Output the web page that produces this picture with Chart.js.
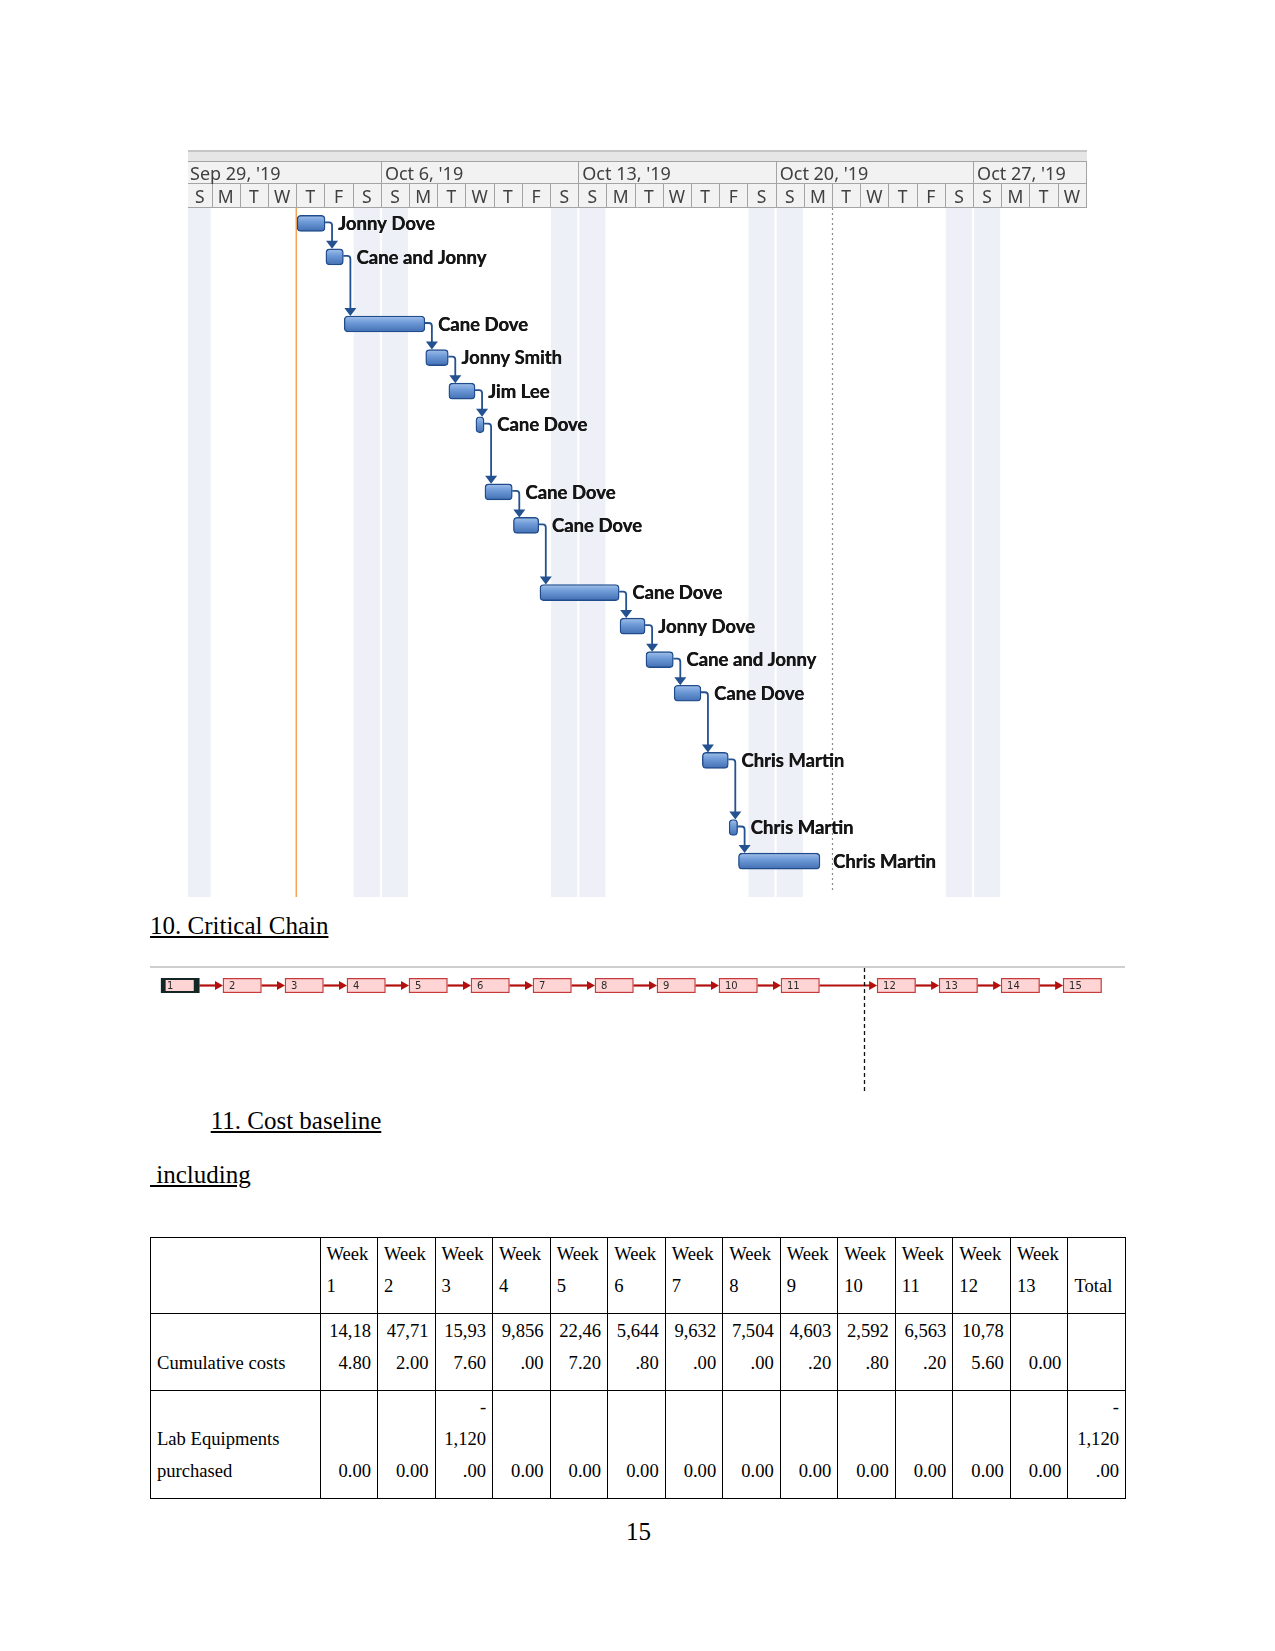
<!DOCTYPE html>
<html><head><meta charset="utf-8">
<script src="https://cdn.jsdelivr.net/npm/chart.js@4.4.1/dist/chart.umd.min.js"></script>
<style>
html,body{margin:0;padding:0;background:#fff;}
body{width:1275px;height:1651px;position:relative;overflow:hidden;font-family:"Liberation Serif","Times New Roman",serif;color:#000;}
.abs{position:absolute;}
.h{position:absolute;font-size:25px;line-height:30px;text-decoration:underline;white-space:pre;}
#costTable{position:absolute;left:150px;top:1237px;width:976px;border-collapse:collapse;table-layout:fixed;font-size:18.6px;line-height:32px;}
#costTable td{border:1px solid #000;padding:0 6px 11px 6px;vertical-align:bottom;overflow:hidden;}
#costTable td.num{text-align:right;}
canvas{display:block;}
</style></head><body>
<div class="abs" style="left:188px;top:150px;width:899px;height:747px"><canvas id="gantt" width="899" height="747"></canvas></div>
<div class="h" style="left:150px;top:911px">10. Critical Chain</div>
<div class="abs" style="left:150px;top:966px;width:975px;height:2px;background:#cfcfcf"></div>
<div class="abs" style="left:150px;top:968px;width:975px;height:125px"><canvas id="chain" width="975" height="125"></canvas></div>
<div class="h" style="left:210.7px;top:1106px">11. Cost baseline</div>
<div class="h" style="left:150px;top:1160px">&nbsp;including</div>
<table id="costTable"></table>
<div class="abs" style="left:626px;top:1517px;font-size:25px;line-height:30px">15</div>
<script>
// ---------- Gantt data ----------
const weekLabels = ["Sep 29, '19", "Oct 6, '19", "Oct 13, '19", "Oct 20, '19", "Oct 27, '19"];
const weekStarts = [0, 7, 14, 21, 28];
const dayLetters = ['S','M','T','W','T','F','S'];
const weekendDays = [0, 6, 7, 13, 14, 20, 21, 27, 28];
const projectStartDay = 4;
const statusDay = 23;
const taskNames = ['Jonny Dove','Cane and Jonny','Cane Dove','Jonny Smith','Jim Lee','Cane Dove','Cane Dove','Cane Dove','Cane Dove','Jonny Dove','Cane and Jonny','Cane Dove','Chris Martin','Chris Martin','Chris Martin'];
const taskRows  = [0, 1, 3, 4, 5, 6, 8, 9, 11, 12, 13, 14, 16, 18, 19];
const taskStart = [4.03, 5.05, 5.70, 8.59, 9.41, 10.37, 10.69, 11.70, 12.64, 15.48, 16.40, 17.40, 18.40, 19.35, 19.68];
const taskEnd   = [5.02, 5.67, 8.56, 9.39, 10.34, 10.66, 11.66, 12.60, 15.45, 16.37, 17.37, 18.35, 19.32, 19.65, 22.57];

// ---------- Critical chain data ----------
const chainIds   = ['1','2','3','4','5','6','7','8','9','10','11','12','13','14','15'];
const chainStart = [0, 1, 2, 3, 4, 5, 6, 7, 8, 9, 10, 11.55, 12.55, 13.55, 14.55];
const chainSpan  = 0.62;
const chainMarker = 11.34;

// ---------- Cost table data ----------
const weekCols = ['Week 1','Week 2','Week 3','Week 4','Week 5','Week 6','Week 7','Week 8','Week 9','Week 10','Week 11','Week 12','Week 13'];
const rowLabels = ['Cumulative costs', 'Lab Equipments purchased'];
const cumulativeCosts = [14184.80, 47712.00, 15937.60, 9856.00, 22467.20, 5644.80, 9632.00, 7504.00, 4603.20, 2592.80, 6563.20, 10785.60, 0.00];
const labEquipments   = [0, 0, -1120.00, 0, 0, 0, 0, 0, 0, 0, 0, 0, 0];
const rowTotals = [null, -1120.00];

// ---------- Gantt chart ----------
const ganttPlugin = {
  id: 'ganttDecor',
  beforeDatasetsDraw(chart) {
    const {ctx, chartArea: a, scales: {x}} = chart;
    ctx.save();
    ctx.fillStyle = '#edf0f6';
    weekendDays.forEach(d => {
      const x0 = Math.max(a.left, x.getPixelForValue(d) + 1);
      const x1 = Math.min(a.right, x.getPixelForValue(d + 1) - 1);
      if (x1 > x0) ctx.fillRect(x0, a.top, x1 - x0, a.bottom - a.top);
    });
    const ps = x.getPixelForValue(projectStartDay);
    ctx.strokeStyle = '#f2a355'; ctx.lineWidth = 1.5;
    ctx.beginPath(); ctx.moveTo(ps, a.top); ctx.lineTo(ps, a.bottom); ctx.stroke();
    const sd = Math.round(x.getPixelForValue(statusDay)) + 0.5;
    ctx.strokeStyle = '#8a8a8a'; ctx.lineWidth = 1.2; ctx.setLineDash([2, 3]);
    ctx.beginPath(); ctx.moveTo(sd, a.top); ctx.lineTo(sd, a.bottom - 4); ctx.stroke();
    ctx.restore();
  },
  afterDatasetsDraw(chart) {
    const {ctx, scales: {x, y}} = chart;
    const half = 8;
    ctx.save();
    ctx.strokeStyle = '#24518f'; ctx.fillStyle = '#24518f'; ctx.lineWidth = 1.8;
    for (let i = 0; i < taskNames.length - 1; i++) {
      const xe = x.getPixelForValue(taskEnd[i]);
      const yc = y.getPixelForValue(taskRows[i]);
      const xv = xe + 7;
      const yTop = y.getPixelForValue(taskRows[i + 1]) - half;
      ctx.beginPath();
      ctx.moveTo(xe, yc - 1);
      ctx.lineTo(xv - 3, yc - 1);
      ctx.quadraticCurveTo(xv, yc - 1, xv, yc + 2);
      ctx.lineTo(xv, yTop - 7);
      ctx.stroke();
      ctx.beginPath();
      ctx.moveTo(xv - 6, yTop - 8);
      ctx.lineTo(xv + 6, yTop - 8);
      ctx.lineTo(xv, yTop);
      ctx.closePath(); ctx.fill();
    }
    ctx.fillStyle = '#161616';
    ctx.font = 'bold 18.5px Lato, "Open Sans", sans-serif';
    ctx.textAlign = 'left'; ctx.textBaseline = 'alphabetic';
    taskNames.forEach((n, i) => {
      const tx = x.getPixelForValue(taskEnd[i]) + 13, ty = y.getPixelForValue(taskRows[i]) + 6.7;
      ctx.fillText(n, tx, ty);
      ctx.fillText(n, tx + 0.4, ty);
    });
    ctx.restore();
  },
  afterDraw(chart) {
    const {ctx, chartArea: a, scales: {x}} = chart;
    const top = 0, r1 = 12, r2 = 34, r3 = a.top;
    ctx.save();
    ctx.fillStyle = '#e6e6e6'; ctx.fillRect(a.left, top, a.right - a.left, r1);
    ctx.fillStyle = '#f2f2f2'; ctx.fillRect(a.left, r1, a.right - a.left, r3 - r1);
    ctx.fillStyle = '#c6c6c6'; ctx.fillRect(a.left, 0, a.right - a.left, 2);
    ctx.strokeStyle = '#a4a4a4'; ctx.lineWidth = 1;
    [r1, r2, r3].forEach(yy => { ctx.beginPath(); ctx.moveTo(a.left, yy - 0.5); ctx.lineTo(a.right, yy - 0.5); ctx.stroke(); });
    ctx.font = '18px "Noto Sans", "Open Sans", sans-serif';
    ctx.fillStyle = '#404040'; ctx.textAlign = 'left'; ctx.textBaseline = 'alphabetic';
    weekStarts.forEach((d, i) => {
      const px = x.getPixelForValue(d);
      if (px > a.left + 1) {
        ctx.beginPath(); ctx.moveTo(Math.round(px) + 0.5, r1); ctx.lineTo(Math.round(px) + 0.5, r2); ctx.stroke();
      }
      ctx.fillText(weekLabels[i], Math.max(px + 4, a.left + 2), r2 - 4);
    });
    ctx.font = '17.5px "Noto Sans", "Open Sans", sans-serif';
    ctx.textAlign = 'center';
    for (let d = 0; d < 33; d++) {
      const p0 = x.getPixelForValue(d), p1 = x.getPixelForValue(d + 1);
      if (p0 > a.left + 1 && p0 < a.right) {
        ctx.beginPath(); ctx.moveTo(Math.round(p0) + 0.5, r2); ctx.lineTo(Math.round(p0) + 0.5, r3); ctx.stroke();
      }
      const cx = (Math.max(p0, a.left) + Math.min(p1, a.right)) / 2;
      if (Math.min(p1, a.right) - Math.max(p0, a.left) > 10) ctx.fillText(dayLetters[d % 7], cx, r3 - 5);
    }
    ctx.beginPath(); ctx.moveTo(a.right - 0.5, r1); ctx.lineTo(a.right - 0.5, r3); ctx.stroke();
    ctx.restore();
  }
};

new Chart(document.getElementById('gantt'), {
  type: 'bar',
  data: { datasets: [{
    data: taskNames.map((n, i) => ({ x: [taskStart[i], taskEnd[i]], y: taskRows[i] })),
    backgroundColor: (c) => {
      const ch = c.chart;
      if (!ch.chartArea || !c.raw) return '#6593d3';
      const yc = ch.scales.y.getPixelForValue(c.raw.y);
      const g = ch.ctx.createLinearGradient(0, yc - 8, 0, yc + 8);
      g.addColorStop(0, '#a3c1ea'); g.addColorStop(0.4, '#6f9bd8'); g.addColorStop(1, '#426fb3');
      return g;
    },
    borderColor: '#214c8c', borderWidth: 1.4, borderRadius: 4, borderSkipped: false, barThickness: 16
  }]},
  options: {
    indexAxis: 'y', responsive: false, animation: false, devicePixelRatio: 1,
    layout: { padding: { top: 58, left: 0, right: 0, bottom: 0 } },
    plugins: { legend: { display: false }, tooltip: { enabled: false } },
    scales: {
      x: { type: 'linear', min: 0.16, max: 32.04, display: false, offset: false, grid: { offset: false } },
      y: { type: 'linear', min: -0.456, max: 20.07, reverse: true, display: false, offset: false, grid: { offset: false } }
    }
  },
  plugins: [ganttPlugin]
});

// ---------- Critical chain chart ----------
const chainPlugin = {
  id: 'chainDecor',
  beforeDatasetsDraw(chart) {
    const {ctx, chartArea: a, scales: {x, y}} = chart;
    ctx.save();
    const yc = y.getPixelForValue(0);
    ctx.strokeStyle = '#b30f0f'; ctx.fillStyle = '#b30f0f'; ctx.lineWidth = 2.2;
    for (let i = 0; i < chainStart.length - 1; i++) {
      const x0 = x.getPixelForValue(chainStart[i] + chainSpan);
      const x1 = x.getPixelForValue(chainStart[i + 1]);
      ctx.beginPath(); ctx.moveTo(x0, yc); ctx.lineTo(x1 - 6, yc); ctx.stroke();
      ctx.beginPath(); ctx.moveTo(x1, yc); ctx.lineTo(x1 - 8, yc - 4.5); ctx.lineTo(x1 - 8, yc + 4.5); ctx.closePath(); ctx.fill();
    }
    const mx = Math.round(x.getPixelForValue(chainMarker)) + 0.5;
    ctx.strokeStyle = '#111'; ctx.lineWidth = 1.3; ctx.setLineDash([4, 3]);
    ctx.beginPath(); ctx.moveTo(mx, a.top); ctx.lineTo(mx, a.bottom); ctx.stroke();
    ctx.restore();
  },
  afterDatasetsDraw(chart) {
    const {ctx, scales: {x, y}} = chart;
    ctx.save();
    ctx.fillStyle = '#2a2a2a'; ctx.font = '10px "DejaVu Sans", sans-serif';
    ctx.textAlign = 'left'; ctx.textBaseline = 'middle';
    chainIds.forEach((id, i) => ctx.fillText(id, x.getPixelForValue(chainStart[i]) + 6, y.getPixelForValue(0) + 1));
    ctx.restore();
  }
};

new Chart(document.getElementById('chain'), {
  type: 'bar',
  data: { datasets: [{
    data: chainIds.map((id, i) => ({ x: [chainStart[i], chainStart[i] + chainSpan], y: 0 })),
    backgroundColor: '#ffd4d4',
    borderColor: (c) => c.dataIndex === 0 ? '#132626' : '#c53a3a',
    borderWidth: (c) => c.dataIndex === 0 ? { left: 5, right: 6, top: 2, bottom: 2 } : 1.3,
    borderSkipped: false, borderRadius: 0, barThickness: 14.5
  }]},
  options: {
    indexAxis: 'y', responsive: false, animation: false, devicePixelRatio: 1,
    layout: { padding: 0 },
    plugins: { legend: { display: false }, tooltip: { enabled: false } },
    scales: {
      x: { type: 'linear', min: -0.177, max: 15.548, display: false, offset: false },
      y: { type: 'linear', min: -1, max: 6.14, reverse: true, display: false, offset: false }
    }
  },
  plugins: [chainPlugin]
});

// ---------- Cost table ----------
function cellLines(v) {
  if (v === null || v === undefined) return [];
  const s = Math.abs(v).toLocaleString('en-US', { minimumFractionDigits: 2, maximumFractionDigits: 2 });
  const lines = [];
  if (v < 0) lines.push('-');
  for (let i = 0; i < s.length; i += 5) lines.push(s.slice(i, i + 5));
  return lines;
}
const table = document.getElementById('costTable');
const cg = document.createElement('colgroup');
[169.5].concat(Array(weekCols.length + 1).fill(57.54)).forEach(w => {
  const c = document.createElement('col'); c.style.width = w + 'px'; cg.appendChild(c);
});
table.appendChild(cg);
const rowHeights = [76, 77, 108];
const hr = document.createElement('tr'); hr.style.height = rowHeights[0] + 'px';
hr.appendChild(document.createElement('td'));
weekCols.concat(['Total']).forEach(w => { const td = document.createElement('td'); td.textContent = w; hr.appendChild(td); });
table.appendChild(hr);
[cumulativeCosts, labEquipments].forEach((vals, r) => {
  const tr = document.createElement('tr'); tr.style.height = rowHeights[r + 1] + 'px';
  const th = document.createElement('td'); th.textContent = rowLabels[r]; tr.appendChild(th);
  vals.concat([rowTotals[r]]).forEach(v => {
    const td = document.createElement('td'); td.className = 'num';
    td.innerHTML = cellLines(v).join('<br>');
    tr.appendChild(td);
  });
  table.appendChild(tr);
});
</script>
</body></html>
